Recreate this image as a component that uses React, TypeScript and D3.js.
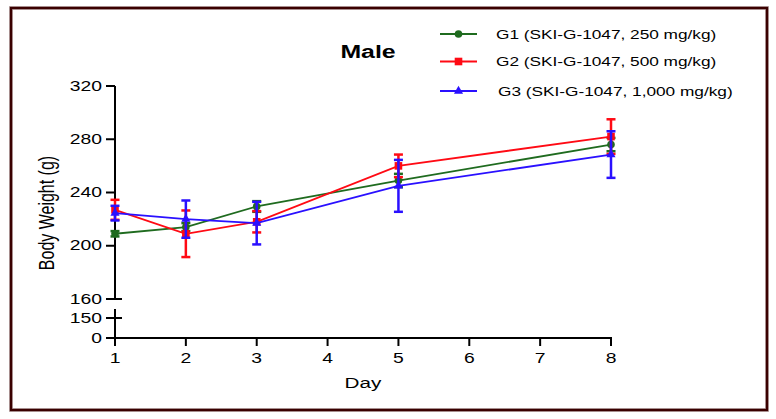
import React from "react";
import * as d3 from "d3";

const days = [1, 2, 3, 5, 8];
const g1Mean = [209, 214, 229.5, 249, 276];
const g1Sem = [2, 3, 4, 5, 5];
const g2Mean = [227, 209, 218, 260, 282];
const g2Sem = [7.5, 17.5, 8, 8.5, 13];
const g3Mean = [224.5, 220, 217, 245, 268.5];
const g3Sem = [5.5, 14, 16, 19.5, 17.5];
const seriesNames = [
  "G1 (SKI-G-1047, 250 mg/kg)",
  "G2 (SKI-G-1047, 500 mg/kg)",
  "G3 (SKI-G-1047, 1,000 mg/kg)",
];
const upperTicks = [160, 200, 240, 280, 320];
const lowerTicks = [0, 150];
const xTicks = [1, 2, 3, 4, 5, 6, 7, 8];

const W = 776;
const H = 419;
const FONT = "Arial, 'Liberation Sans', sans-serif";
const SX = 1.38;

const x = d3.scaleLinear().domain([1, 8]).range([115, 611]);
const yUp = d3.scaleLinear().domain([160, 320]).range([299, 86]);
const yLow = d3.scaleLinear().domain([0, 150]).range([338, 318]);
const y = (v: number) => (v >= 160 ? yUp(v) : yLow(v));

const colors = ["#1f6b1f", "#ff0a14", "#2a10ff"];

const series = [
  { name: seriesNames[0], mean: g1Mean, sem: g1Sem, color: colors[0], shape: "circle" },
  { name: seriesNames[1], mean: g2Mean, sem: g2Sem, color: colors[1], shape: "square" },
  { name: seriesNames[2], mean: g3Mean, sem: g3Sem, color: colors[2], shape: "triangle" },
];

function Marker({ shape, cx, cy, color }: { shape: string; cx: number; cy: number; color: string }) {
  if (shape === "circle") return <circle cx={cx} cy={cy} r={3.8} fill={color} />;
  if (shape === "square")
    return <rect x={cx - 3.8} y={cy - 3.8} width={7.6} height={7.6} fill={color} />;
  const sym = d3.symbol().type(d3.symbolTriangle).size(36)();
  return <path d={sym || ""} transform={`translate(${cx},${cy})`} fill={color} />;
}

function SText({
  x0,
  y0,
  size,
  anchor = "start",
  weight = "normal",
  children,
}: {
  x0: number;
  y0: number;
  size: number;
  anchor?: string;
  weight?: string;
  children: React.ReactNode;
}) {
  return (
    <text
      transform={`translate(${x0},${y0}) scale(${SX},1)`}
      fontSize={size}
      fontFamily={FONT}
      fontWeight={weight}
      textAnchor={anchor as any}
      dominantBaseline="central"
      fill="#000"
    >
      {children}
    </text>
  );
}

export default function App() {
  const line = d3
    .line<number>()
    .x((_, i) => x(days[i]))
    .y((d) => y(d));

  const legendY = [34, 61.5, 91];

  return (
    <svg
      width={W}
      height={H}
      style={{ position: "absolute", left: 0, top: 0, background: "#fff" }}
    >
      <rect x={0} y={0} width={W} height={H} fill="#fff" />
      {/* frame */}
      <rect x={11} y={8} width={756} height={402} fill="none" stroke="#8a6a6a" strokeWidth={3.5} />
      <rect x={11} y={8} width={756} height={402} fill="none" stroke="#3a0000" strokeWidth={2} />

      {/* title */}
      <SText x0={368} y0={52} size={18} anchor="middle" weight="bold">
        Male
      </SText>

      {/* y axis upper */}
      <line x1={115} x2={115} y1={yUp(320)} y2={yUp(160)} stroke="#000" strokeWidth={2} />
      {upperTicks.map((t) => (
        <g key={t}>
          <line
            x1={106}
            x2={t === 160 ? 122 : 115}
            y1={yUp(t)}
            y2={yUp(t)}
            stroke="#000"
            strokeWidth={2}
          />
          <SText x0={102} y0={yUp(t)} size={14} anchor="end">
            {t}
          </SText>
        </g>
      ))}
      {/* y axis lower */}
      <line x1={115} x2={115} y1={309} y2={yLow(0)} stroke="#000" strokeWidth={2} />
      {lowerTicks.map((t) => (
        <g key={t}>
          <line
            x1={106}
            x2={t === 150 ? 122 : 115}
            y1={yLow(t)}
            y2={yLow(t)}
            stroke="#000"
            strokeWidth={2}
          />
          <SText x0={102} y0={yLow(t)} size={14} anchor="end">
            {t}
          </SText>
        </g>
      ))}

      {/* x axis */}
      <line x1={114} x2={612} y1={yLow(0)} y2={yLow(0)} stroke="#000" strokeWidth={2} />
      {xTicks.map((t) => (
        <g key={t}>
          <line x1={x(t)} x2={x(t)} y1={yLow(0)} y2={yLow(0) + 8} stroke="#000" strokeWidth={2} />
          <SText x0={x(t)} y0={358} size={14} anchor="middle">
            {t}
          </SText>
        </g>
      ))}

      {/* axis titles */}
      <SText x0={363} y0={383} size={15} anchor="middle">
        Day
      </SText>
      <text
        transform={`translate(47,213) rotate(-90) scale(1,${SX})`}
        fontSize={16}
        fontFamily={FONT}
        textAnchor="middle"
        dominantBaseline="central"
        fill="#000"
      >
        Body Weight (g)
      </text>

      {/* series */}
      {series.map((s) => (
        <g key={s.name}>
          <path d={line(s.mean) || ""} fill="none" stroke={s.color} strokeWidth={1.8} />
          {s.mean.map((m, i) => {
            const cx = x(days[i]);
            const yt = y(m + s.sem[i]);
            const yb = y(m - s.sem[i]);
            return (
              <g key={i}>
                <line x1={cx} x2={cx} y1={yt} y2={yb} stroke={s.color} strokeWidth={2.5} />
                <line x1={cx - 4.5} x2={cx + 4.5} y1={yt} y2={yt} stroke={s.color} strokeWidth={2.5} />
                <line x1={cx - 4.5} x2={cx + 4.5} y1={yb} y2={yb} stroke={s.color} strokeWidth={2.5} />
                <Marker shape={s.shape} cx={cx} cy={y(m)} color={s.color} />
              </g>
            );
          })}
        </g>
      ))}

      {/* legend */}
      {series.map((s, i) => (
        <g key={s.name}>
          <line x1={440} x2={477} y1={legendY[i]} y2={legendY[i]} stroke={s.color} strokeWidth={2} />
          <Marker shape={s.shape} cx={458.5} cy={legendY[i]} color={s.color} />
          <SText x0={i === 2 ? 498 : 496} y0={legendY[i]} size={12.5}>
            {s.name}
          </SText>
        </g>
      ))}
    </svg>
  );
}
